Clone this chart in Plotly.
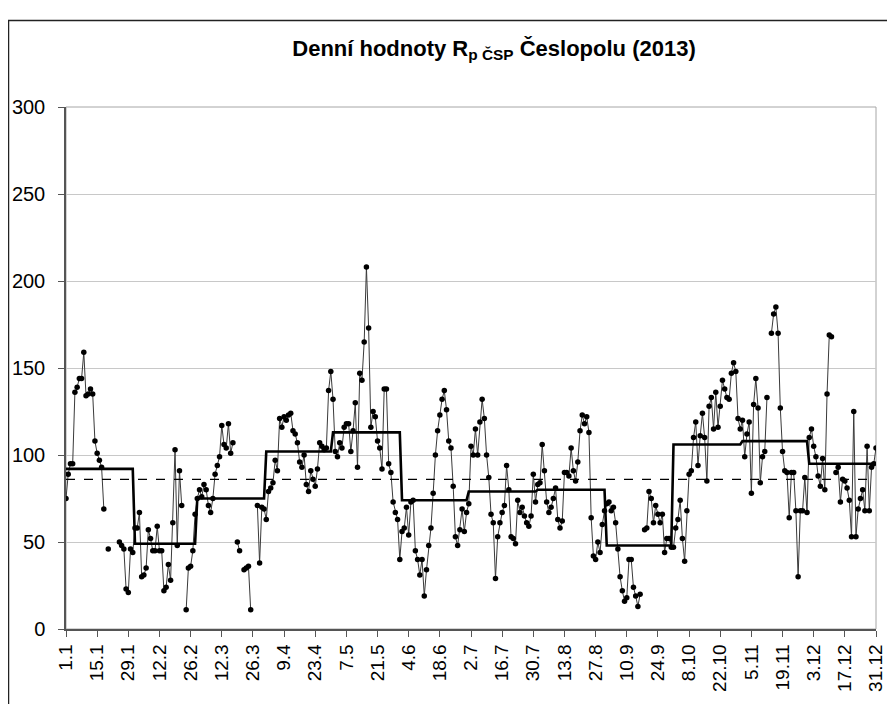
import plotly.graph_objects as go

# ---- data ----
month_lengths = [31, 28, 31, 30, 31, 30, 31, 31, 30, 31, 30, 31]

jan = [75, 89, 95, 95, 136, 139, 144, 144, 159, 134, 135, 138, 135, 108, 101, 97, 93, 69, None, 46,
       None, None, None, None, 50, 48, 46, 23, 21, 46, 44]
feb = [58, 58, 67, 30, 31, 35, 57, 52, 45, 45, 59, 45, 45, 22, 24, 37, 28, 61, 103, 48,
       91, 71, None, 11, 35, 36, 45, 66]
mar = [75, 80, 76, 83, 80, 71, 67, 75, 89, 94, 99, 117, 106, 104, 118, 101, 107, None, 50, 45,
       None, 34, 35, 36, 11, None, None, 71, 38, 70, 69]
apr = [63, 79, 81, 84, 97, 91, 121, 116, 122, 120, 123, 124, 114, 112, 107, 96, 93, 100, 83, 79,
       91, 86, 82, 92, 107, 105, 103, 104, 137, 148]
may = [132, 102, 99, 107, 104, 116, 118, 118, 102, 114, 130, 93, 147, 143, 165, 208, 173, 116, 125, 122,
       108, 104, 92, 138, 138, 95, 90, 73, 67, 63, 40]
jun = [56, 58, 70, 54, 73, 74, 45, 40, 31, 40, 19, 34, 48, 58, 78, 100, 114, 123, 132, 137,
       126, 108, 104, 82, 53, 48, 57, 69, 56, 67]
jul = [72, 105, 100, 115, 100, 119, 132, 121, 100, 87, 66, 61, 29, 53, 61, 67, 71, 94, 80, 53,
       52, 49, 74, 67, 70, 65, 61, 59, 65, 89, 73]
aug = [83, 84, 106, 91, 73, 67, 70, 75, 81, 63, 58, 62, 90, 90, 88, 104, 91, 85, 96, 114,
       123, 118, 122, 113, 64, 42, 40, 50, 44, 60, 68]
sep = [72, 73, 68, 70, 61, 46, 30, 22, 16, 18, 40, 40, 24, 19, 13, 20, None, 57, 58, 79,
       75, 61, 71, 66, 61, 66, 44, 52, 52, 47]
oct_ = [47, 58, 63, 74, 52, 39, 68, 89, 91, 110, 119, 94, 111, 124, 110, 85, 128, 133, 115, 136,
        116, 128, 143, 138, 133, 132, 147, 153, 148, 121, 115]
nov = [120, 99, 112, 119, 78, 129, 144, 127, 84, 99, 102, 133, None, 170, 181, 185, 170, 127, 102, 91,
       90, 64, 90, 90, 68, 30, 68, 68, 87, 67]
dec = [110, 115, 105, 99, 88, 82, 98, 80, 135, 169, 168, None, 90, 93, 73, 86, 85, 81, 74, 53,
       125, 53, 69, 75, 80, 68, 105, 68, 93, 95, 104]

monthly_means = [92, 49, 75, 102, 113, 74, 79, 80, 48, 106, 108, 95]
annual_mean = 86

tick_labels = ["1.1", "15.1", "29.1", "12.2", "26.2", "12.3", "26.3", "9.4", "23.4", "7.5",
               "21.5", "4.6", "18.6", "2.7", "16.7", "30.7", "13.8", "27.8", "10.9", "24.9",
               "8.10", "22.10", "5.11", "19.11", "3.12", "17.12", "31.12"]
tick_step_days = 14

# ---- build series ----
daily = jan + feb + mar + apr + may + jun + jul + aug + sep + oct_ + nov + dec
days = list(range(len(daily)))
mean_series = []
for m, n in zip(monthly_means, month_lengths):
    mean_series += [m] * n

FONT = "Arial, Liberation Sans, sans-serif"

# layout geometry (figure coordinates; the page adds an 8px body offset)
W, H = 895, 704
L, R, T, B = 58, 27, 99, 83
PW, PH = W - L - R, H - T - B

fig = go.Figure()
fig.add_trace(go.Scatter(
    x=days, y=daily, mode="lines+markers",
    line=dict(color="#3a3a3a", width=1),
    marker=dict(color="black", size=5.5),
    connectgaps=False, showlegend=False))
fig.add_trace(go.Scatter(
    x=days, y=mean_series, mode="lines",
    line=dict(color="black", width=2.6),
    showlegend=False))
fig.add_trace(go.Scatter(
    x=[days[0], days[-1]], y=[annual_mean, annual_mean], mode="lines",
    line=dict(color="black", width=1.4, dash="dash"),
    showlegend=False))

# plot-area border and outer chart frame
fig.add_shape(type="rect", xref="paper", yref="paper", x0=0, x1=1, y0=0, y1=1,
              line=dict(color="#a6a6a6", width=1), layer="below")
fig.add_shape(type="rect", xref="paper", yref="paper",
              x0=(0.5 - L) / PW, x1=(W + 60 - L) / PW,
              y0=-(B + 60) / PH, y1=(T + PH - 12.5) / PH,
              line=dict(color="#222222", width=1.5))

fig.update_layout(
    width=W, height=H,
    margin=dict(l=L, r=R, t=T, b=B),
    paper_bgcolor="white", plot_bgcolor="white",
    title=dict(text="<b>Denní hodnoty R<sub>p ČSP</sub> Česlopolu (2013)</b>",
               x=486 / W, xanchor="center", xref="container",
               y=1 - 40 / H, yanchor="middle", yref="container",
               font=dict(family=FONT, size=22, color="black")),
    font=dict(family=FONT, color="black"),
)
fig.update_xaxes(
    range=[days[0], days[-1]],
    tickmode="array",
    tickvals=[i * tick_step_days for i in range(len(tick_labels))],
    ticktext=tick_labels, tickangle=-90,
    tickfont=dict(family=FONT, size=19, color="black"),
    ticks="outside", ticklen=6, tickcolor="#555555",
    showline=True, linecolor="#555555", linewidth=1.5,
    showgrid=False, zeroline=False, automargin=False)
fig.update_yaxes(
    range=[0, 300], tickmode="linear", tick0=0, dtick=50,
    tickfont=dict(family=FONT, size=20, color="black"),
    ticks="outside", ticklen=6, tickcolor="#555555",
    ticklabelstandoff=9,
    showline=True, linecolor="#555555", linewidth=1.5,
    showgrid=True, gridcolor="#c8c8c8", gridwidth=1, zeroline=False,
    automargin=False)

fig.write_html("out.html")
